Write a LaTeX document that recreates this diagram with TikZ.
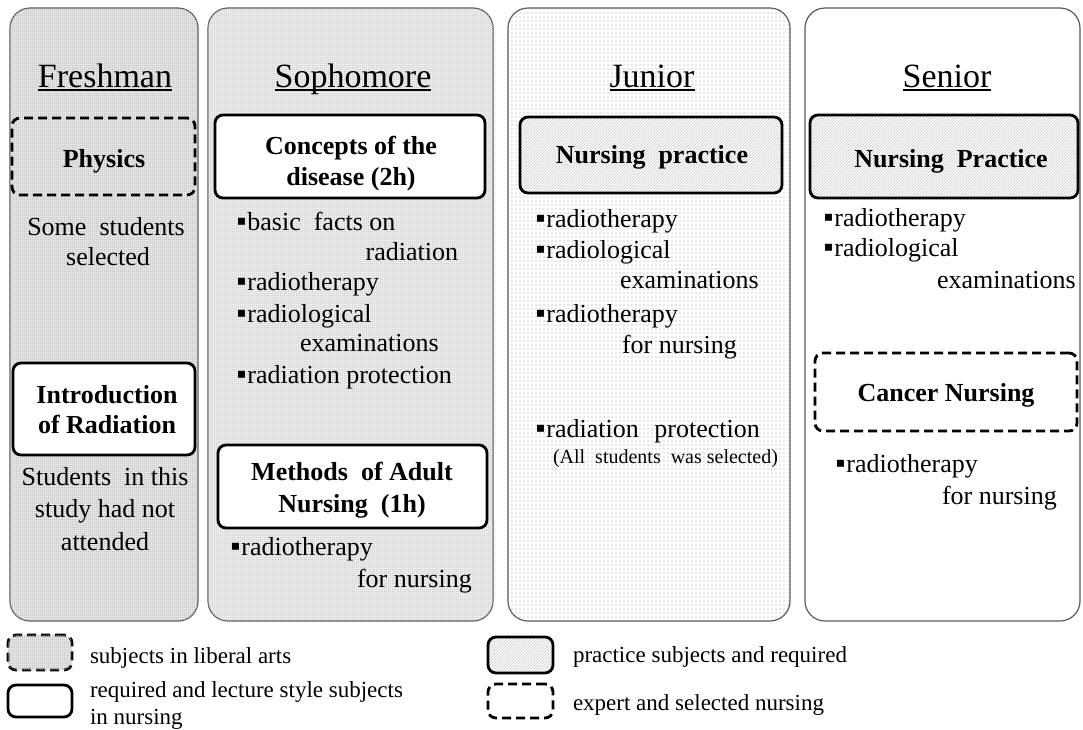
\documentclass[tikz,border=0pt]{standalone}
\usepackage{fontspec}
\setmainfont{Liberation Serif}
\usetikzlibrary{patterns}
\pgfdeclarepatternformonly{densedots}{\pgfqpoint{0pt}{0pt}}{\pgfqpoint{2pt}{2pt}}{\pgfqpoint{2pt}{2pt}}{%
  \pgfpathrectangle{\pgfqpoint{0pt}{0pt}}{\pgfqpoint{1pt}{1pt}}%
  \pgfpathrectangle{\pgfqpoint{1pt}{1pt}}{\pgfqpoint{1pt}{1pt}}%
  \pgfusepath{fill}}
\pgfdeclarepatternformonly{sparsedots}{\pgfqpoint{-1pt}{-1pt}}{\pgfqpoint{1pt}{1pt}}{\pgfqpoint{4pt}{4pt}}{%
  \pgfpathcircle{\pgfqpoint{0pt}{0pt}}{0.55pt}\pgfusepath{fill}}
\newcommand\bulsq{{\fontsize{28}{28}\selectfont\kern-0.12em▪\kern0.03em}}
\tikzset{
  panel/.style={draw=black!65, line width=1.2pt, rounded corners=20pt, inner sep=0pt},
  boxbase/.style={draw=black, line width=2.8pt, rounded corners=8pt, inner sep=0pt},
  lect/.style={boxbase, fill=white},
  dashbox/.style={boxbase, dash pattern=on 9pt off 5pt},
  hatchbox/.style={boxbase, preaction={fill=white}, pattern=north east lines, pattern color=black!22},
  dense/.style={fill=black!8, postaction={pattern=densedots, pattern color=black!30}},
  dense2/.style={fill=black!5, postaction={pattern=densedots, pattern color=black!25}},
  sparse/.style={fill=white, postaction={pattern=sparsedots, pattern color=black!40}},
  txt/.style={inner sep=0pt, outer sep=0pt, font=\fontsize{26}{30}\selectfont},
  ttl/.style={inner sep=0pt, outer sep=0pt, font=\fontsize{34}{40}\selectfont, anchor=base},
  hd/.style={inner sep=0pt, outer sep=0pt, font=\bfseries\fontsize{26}{30}\selectfont, anchor=base},
  sm/.style={inner sep=0pt, outer sep=0pt, font=\fontsize{20}{24}\selectfont},
  leg/.style={inner sep=0pt, outer sep=0pt, font=\fontsize{23}{27}\selectfont, anchor=base west},
  uline/.style={line width=1.2pt}
}
\begin{document}
\begin{tikzpicture}[x=1pt,y=-1pt]
\useasboundingbox (0,0) rectangle (1083,729);
% panels
\node[panel, dense, minimum width=188, minimum height=613] (pfresh) at (104,314.5) {};
\node[panel, dense2, minimum width=285, minimum height=613] (psoph) at (350.5,314.5) {};
\node[panel, sparse, minimum width=282, minimum height=613] (pjun) at (649,314.5) {};
\node[panel, fill=white, minimum width=275, minimum height=613] (psen) at (942.5,314.5) {};
% titles
\node[ttl] (tfresh) at (105,87) {Freshman};
\node[ttl] (tsoph) at (353,87) {Sophomore};
\node[ttl] (tjun) at (652,87) {Junior};
\node[ttl] (tsen) at (947,87) {Senior};
\foreach \t in {tfresh,tsoph,tjun,tsen}
  \draw[uline] ([yshift=-3pt]\t.base west) -- ([yshift=-3pt]\t.base east);
% Freshman
\node[dashbox, minimum width=183, minimum height=77] (phys) at (103.5,156.5) {};
\node[hd] (physt) at (104,167) {Physics};
\node[txt, anchor=base] (f1) at (106,235) {Some\ \ students};
\node[txt, anchor=base] (f2) at (108,265) {selected};
\node[lect, minimum width=182, minimum height=92] (intro) at (104,409) {};
\node[hd] (intro1) at (107,403) {Introduction};
\node[hd] (intro2) at (107,433) {of Radiation};
\node[txt, anchor=base] (f3) at (105,485) {Students\ \ in this};
\node[txt, anchor=base] (f4) at (105,517) {study had not};
\node[txt, anchor=base] (f5) at (105,550) {attended};
% Sophomore
\node[lect, minimum width=270, minimum height=83] (conc) at (350,156.5) {};
\node[hd] (conc1) at (351,154) {Concepts of the};
\node[hd] (conc2) at (351,185) {disease (2h)};
\node[txt, anchor=base west] (s1) at (240,230) {\bulsq basic\ \ facts on};
\node[txt, anchor=base east] (s2) at (458,260) {radiation};
\node[txt, anchor=base west] (s3) at (240,290) {\bulsq radiotherapy};
\node[txt, anchor=base west] (s4) at (240,322) {\bulsq radiological};
\node[txt, anchor=base west] (s5) at (300,351) {examinations};
\node[txt, anchor=base west] (s6) at (240,383) {\bulsq radiation protection};
\node[lect, minimum width=269, minimum height=83] (meth) at (352.5,486.5) {};
\node[hd] (meth1) at (352,480) {Methods\ \ of Adult};
\node[hd] (meth2) at (352,512) {Nursing\ \ (1h)};
\node[txt, anchor=base west] (s7) at (234,555) {\bulsq radiotherapy};
\node[txt, anchor=base west] (s8) at (357,587) {for nursing};
% Junior
\node[hatchbox, minimum width=262, minimum height=76] (jnp) at (651,155) {};
\node[hd] (jnpt) at (652,163) {Nursing\ \ practice};
\node[txt, anchor=base west] (j1) at (539,227) {\bulsq radiotherapy};
\node[txt, anchor=base west] (j2) at (539,258) {\bulsq radiological};
\node[txt, anchor=base west] (j3) at (620,288) {examinations};
\node[txt, anchor=base west] (j4) at (539,322) {\bulsq radiotherapy};
\node[txt, anchor=base west] (j5) at (622,353) {for nursing};
\node[txt, anchor=base west] (j6) at (539,437) {\bulsq radiation\hspace{0.35em} protection};
\node[sm, anchor=base west] (j7) at (553,463) {(All\ \ students\ \ was selected)};
% Senior
\node[hatchbox, minimum width=268, minimum height=83] (snp) at (944,156.5) {};
\node[hd] (snpt) at (951,167) {Nursing\ \ Practice};
\node[txt, anchor=base west] (n1) at (827,226) {\bulsq radiotherapy};
\node[txt, anchor=base west] (n2) at (827,256) {\bulsq radiological};
\node[txt, anchor=base west] (n3) at (937,288) {examinations};
\node[dashbox, minimum width=262, minimum height=78] (canc) at (946,392) {};
\node[hd] (canct) at (946,401) {Cancer Nursing};
\node[txt, anchor=base west] (n4) at (839,472) {\bulsq radiotherapy};
\node[txt, anchor=base west] (n5) at (942,504) {for nursing};
% legend
\node[dashbox, dense, minimum width=64, minimum height=35] (lg1) at (40,652.5) {};
\node[leg] (lg1t) at (90,663) {subjects in liberal arts};
\node[lect, minimum width=64, minimum height=32] (lg2) at (40,701) {};
\node[leg] (lg2t) at (90,697) {required and lecture style subjects};
\node[leg] (lg2u) at (90,724) {in nursing};
\node[hatchbox, minimum width=65, minimum height=36] (lg3) at (520.5,655) {};
\node[leg] (lg3t) at (573,662) {practice subjects and required};
\node[dashbox, minimum width=65, minimum height=34] (lg4) at (520.5,701) {};
\node[leg] (lg4t) at (573,710) {expert and selected nursing};
\end{tikzpicture}
\end{document}
